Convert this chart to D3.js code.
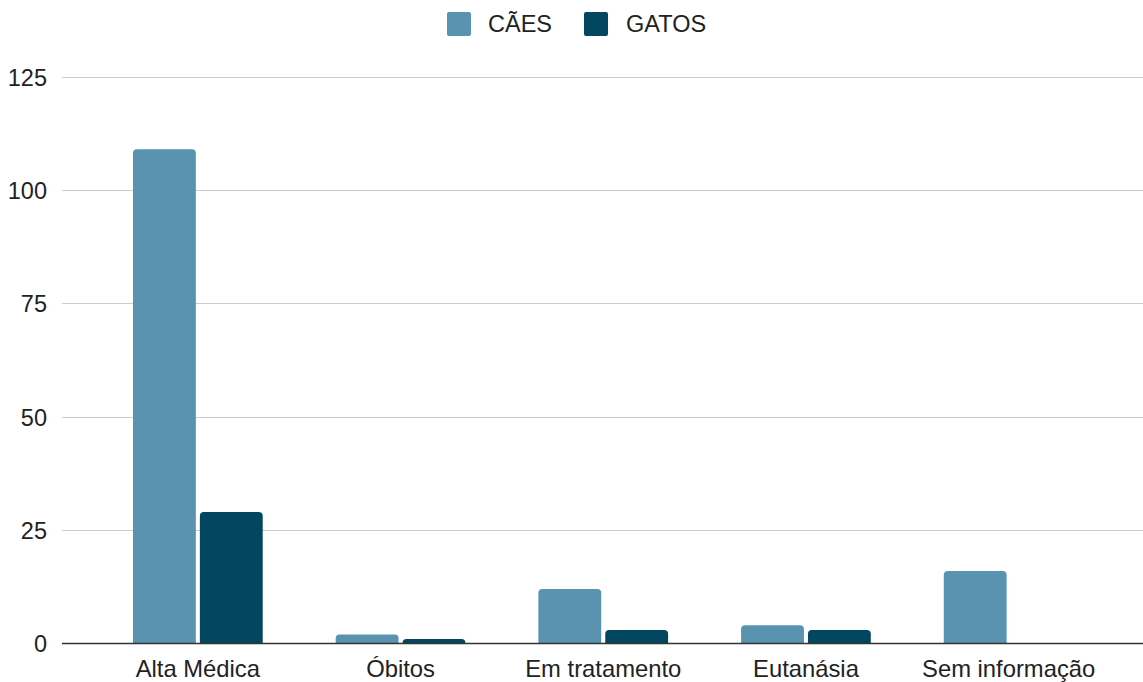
<!DOCTYPE html>
<html>
<head>
<meta charset="utf-8">
<script src="https://cdn.jsdelivr.net/npm/d3@7"></script>
<style>
  html, body { margin: 0; padding: 0; background: #fff; }
  svg { display: block; font-family: "Liberation Sans", Arial, sans-serif; }
</style>
</head>
<body>
<svg id="chart" width="1143" height="682"></svg>
<script>
const categories = ["Alta Médica", "Óbitos", "Em tratamento", "Eutanásia", "Sem informação"];
const seriesNames = ["CÃES", "GATOS"];
const caes = [109, 2, 12, 4, 16];
const gatos = [29, 1, 3, 3, 0];
const yTicks = [0, 25, 50, 75, 100, 125];
const colors = ["#5a93b0", "#03465f"];
const FONT = "'Liberation Sans', Arial, sans-serif";

const svg = d3.select("#chart");
const W = 1143;
const gridLeft = 62, gridRight = W;

const y = d3.scaleLinear().domain([0, 125]).range([643.5, 76.8]);

const x0 = d3.scaleBand()
  .domain(categories)
  .range([96.5, 1110])
  .paddingInner(0.36)
  .paddingOuter(0.18);

const x1 = d3.scaleBand()
  .domain(seriesNames)
  .range([0, x0.bandwidth()])
  .paddingInner(0.06);

const color = d3.scaleOrdinal().domain(seriesNames).range(colors);

// gridlines
svg.append("g")
  .selectAll("line")
  .data(yTicks.filter(d => d !== 0))
  .join("line")
  .attr("x1", gridLeft).attr("x2", gridRight)
  .attr("y1", d => Math.round(y(d)) + 0.5).attr("y2", d => Math.round(y(d)) + 0.5)
  .attr("stroke", "#cccccc").attr("stroke-width", 1);

// y tick labels
const yAxis = d3.axisLeft(y).tickValues(yTicks).tickSize(0).tickPadding(0);
const yg = svg.append("g").attr("transform", "translate(47,0)").call(yAxis);
yg.select(".domain").remove();
yg.selectAll("text")
  .attr("font-size", 23.5)
  .attr("fill", "#222")
  .attr("font-family", FONT)
  .attr("dy", "0.36em");

// bars with rounded top corners
function barPath(x, w, yTop, yBase, r) {
  const h = yBase - yTop;
  if (h <= 0) return "";
  const rr = Math.min(r, h, w / 2);
  return `M${x},${yBase}V${yTop + rr}Q${x},${yTop} ${x + rr},${yTop}` +
         `H${x + w - rr}Q${x + w},${yTop} ${x + w},${yTop + rr}V${yBase}Z`;
}

const rows = categories.map((c, i) => ({ category: c, values: [
  { key: "CÃES", value: caes[i] },
  { key: "GATOS", value: gatos[i] }
]}));

svg.append("g")
  .selectAll("g")
  .data(rows)
  .join("g")
  .attr("transform", d => `translate(${x0(d.category)},0)`)
  .selectAll("path")
  .data(d => d.values)
  .join("path")
  .attr("d", d => barPath(x1(d.key), x1.bandwidth(), y(d.value), y(0), 4))
  .attr("fill", d => color(d.key));

// baseline
svg.append("line")
  .attr("x1", gridLeft).attr("x2", gridRight)
  .attr("y1", y(0)).attr("y2", y(0))
  .attr("stroke", "#333").attr("stroke-width", 1.6);

// x axis labels
const xAxis = d3.axisBottom(x0).tickSize(0).tickPadding(0);
const xg = svg.append("g").attr("transform", "translate(0,677)").call(xAxis);
xg.select(".domain").remove();
xg.selectAll("text")
  .attr("font-size", 23.8)
  .attr("fill", "#222")
  .attr("font-family", FONT)
  .attr("dy", 0)
  .attr("y", 0);

// legend
const legendItems = [
  { name: "CÃES", sx: 447, tx: 488 },
  { name: "GATOS", sx: 584, tx: 626 }
];
const lg = svg.append("g");
lg.selectAll("rect")
  .data(legendItems)
  .join("rect")
  .attr("x", d => d.sx).attr("y", 12)
  .attr("width", 24).attr("height", 24)
  .attr("rx", 2)
  .attr("fill", d => color(d.name));
lg.selectAll("text")
  .data(legendItems)
  .join("text")
  .attr("x", d => d.tx).attr("y", 32)
  .attr("font-size", 23.5)
  .attr("font-family", FONT)
  .attr("fill", "#222")
  .text(d => d.name);
</script>
</body>
</html>
